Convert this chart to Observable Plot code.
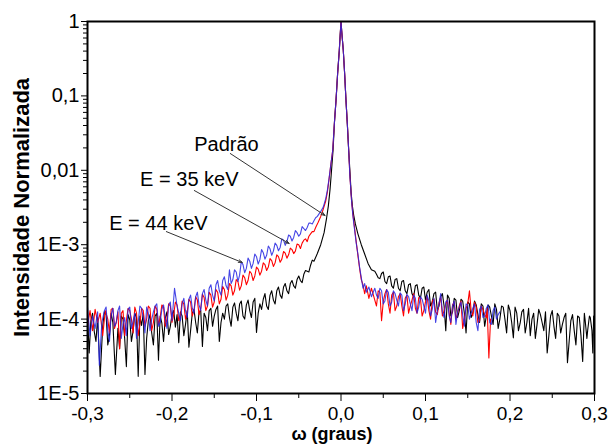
<!DOCTYPE html>
<html><head><meta charset="utf-8">
<script src="https://cdn.jsdelivr.net/npm/d3@7"></script>
<script src="https://cdn.jsdelivr.net/npm/@observablehq/plot@0.6"></script>
<style>body{margin:0;background:#fff} svg{display:block}</style>
</head><body><div id="chart"></div>
<script>
// Padrão (black)
const padrao = [
[-0.300,1.1e-4],[-0.298,3.5e-5],[-0.296,9.5e-5],[-0.292,6.8e-5],[-0.288,1.05e-4],[-0.285,1.7e-5],[-0.282,8.0e-5],[-0.278,1.15e-4],[-0.274,6.0e-5],[-0.270,9.0e-5],[-0.267,1.8e-5],[-0.264,7.5e-5],[-0.260,1.1e-4],[-0.256,5.5e-5],[-0.254,2.3e-5],[-0.250,9.8e-5],[-0.246,7.0e-5],[-0.242,1.05e-4],[-0.240,1.7e-5],[-0.236,8.2e-5],[-0.232,1.8e-5],[-0.228,9.5e-5],[-0.224,6.5e-5],[-0.220,1.1e-4],[-0.216,2.8e-5],[-0.212,8.8e-5],[-0.208,1.02e-4],[-0.204,6.2e-5],[-0.200,1.15e-4],[-0.196,7.8e-5],[-0.192,4.8e-5],[-0.188,1.1e-4],[-0.184,8.5e-5],[-0.180,4.2e-5],[-0.176,1.2e-4],[-0.172,9.0e-5],[-0.168,1.25e-4],[-0.164,4.3e-5],[-0.160,1.05e-4],[-0.156,1.3e-4],[-0.152,8.0e-5],[-0.148,1.35e-4],[-0.144,5.0e-5],[-0.140,1.2e-4],[-0.136,1.5e-4],[-0.132,1.05e-4],[-0.128,1.45e-4],[-0.124,1.2e-4],[-0.120,1.6e-4],[-0.116,1.1e-4],[-0.112,1.55e-4],[-0.108,1.3e-4],[-0.104,1.7e-4],[-0.100,6.6e-5],[-0.096,1.6e-4],[-0.092,1.85e-4],[-0.088,1.5e-4],[-0.084,2.1e-4],[-0.080,1.8e-4],[-0.076,2.4e-4],[-0.072,2.1e-4],[-0.068,2.7e-4],[-0.064,2.4e-4],[-0.060,3.0e-4],[-0.056,2.8e-4],[-0.052,3.4e-4],[-0.048,3.3e-4],[-0.044,4.0e-4],[-0.040,4.4e-4],[-0.036,5.3e-4],[-0.032,6.0e-4],[-0.028,7.6e-4],[-0.024,1.0e-3],[-0.020,1.45e-3],[-0.017,2.3e-3],[-0.015,3.3e-3],[-0.013,5.5e-3],[-0.0115,9.0e-3],[-0.0094,1.86e-2],[-0.0077,4.5e-2],[-0.0059,8.7e-2],[-0.004,0.2],[-0.002,0.41],[-0.001,0.65],[0,1],[0.001,0.7],[0.0027,0.41],[0.0043,0.2],[0.0059,8.7e-2],[0.0075,4.2e-2],[0.0091,1.86e-2],[0.0106,9.5e-3],[0.012,5.0e-3],[0.0135,3.3e-3],[0.015,2.5e-3],[0.017,1.9e-3],[0.020,1.4e-3],[0.024,1.0e-3],[0.028,7.5e-4],[0.032,5.6e-4],[0.036,4.6e-4],[0.040,4.4e-4],[0.044,3.6e-4],[0.048,4.1e-4],[0.052,3.2e-4],[0.056,3.7e-4],[0.060,2.8e-4],[0.064,3.4e-4],[0.068,2.6e-4],[0.072,3.2e-4],[0.076,2.4e-4],[0.080,2.9e-4],[0.084,2.2e-4],[0.088,2.8e-4],[0.092,2.1e-4],[0.096,2.6e-4],[0.100,1.8e-4],[0.104,2.5e-4],[0.108,1.7e-4],[0.112,2.3e-4],[0.116,1.5e-4],[0.120,2.2e-4],[0.124,7.0e-5],[0.128,1.9e-4],[0.132,1.25e-4],[0.136,1.8e-4],[0.140,1.3e-4],[0.144,1.75e-4],[0.148,6.5e-5],[0.152,1.6e-4],[0.156,1.2e-4],[0.160,1.55e-4],[0.164,9.0e-5],[0.168,1.5e-4],[0.172,1.1e-4],[0.176,1.45e-4],[0.180,8.5e-5],[0.184,1.35e-4],[0.188,1.0e-4],[0.192,1.45e-4],[0.196,6.5e-5],[0.200,1.3e-4],[0.204,5.6e-5],[0.208,1.2e-4],[0.212,8.8e-5],[0.216,1.35e-4],[0.220,9.0e-5],[0.224,6.0e-5],[0.228,1.2e-4],[0.232,8.5e-5],[0.236,1.15e-4],[0.240,7.0e-5],[0.244,3.5e-5],[0.248,1.1e-4],[0.252,8.0e-5],[0.256,1.2e-4],[0.260,6.5e-5],[0.264,1.05e-4],[0.268,2.6e-5],[0.272,9.5e-5],[0.276,7.0e-5],[0.280,1.1e-4],[0.284,6.0e-5],[0.286,2.7e-5],[0.289,9.5e-5],[0.292,7.2e-5],[0.295,1.05e-4],[0.298,3.5e-5],[0.300,8.5e-5]
];
// extra Padrão readings between the points above
const padraoExtra = [
[-0.294,1.2e-4],[-0.290,5.0e-5],[-0.280,1.25e-4],[-0.276,4.5e-5],[-0.272,1.2e-4],[-0.262,4.0e-5],[-0.258,1.0e-4],[-0.252,1.15e-4],[-0.248,5.0e-5],[-0.244,1.2e-4],[-0.238,1.1e-4],[-0.234,1.2e-4],[-0.230,5.5e-5],[-0.226,1.15e-4],[-0.222,4.5e-5],[-0.218,1.2e-4],[-0.214,1.1e-4],[-0.210,5.0e-5],[-0.206,1.25e-4],[-0.202,8.0e-5],[-0.198,1.3e-4],[-0.194,1.15e-4],[-0.190,1.25e-4],[-0.186,6.0e-5],[-0.182,1.3e-4],[-0.178,7.0e-5],[-0.174,1.35e-4],[-0.170,6.5e-5],[-0.166,1.3e-4],[-0.162,1.2e-4],[-0.158,7.0e-5],[-0.154,1.4e-4],[-0.150,1.1e-4],[-0.146,1.5e-4],[-0.142,9.0e-5],[-0.138,1.0e-4],[-0.134,1.6e-4],[-0.130,8.0e-5],[-0.126,1.65e-4],[-0.122,9.5e-5],[-0.118,1.75e-4],[-0.114,1.0e-4],[-0.110,1.8e-4],[-0.106,1.05e-4],[-0.102,1.9e-4],[-0.098,1.2e-4],[-0.094,1.35e-4],[-0.090,2.2e-4],[-0.086,1.35e-4],[-0.082,2.4e-4],[-0.078,1.6e-4],[-0.074,2.7e-4],[-0.070,1.9e-4],[-0.066,3.0e-4],[-0.062,2.2e-4],[-0.058,3.3e-4],[-0.054,2.6e-4],[-0.050,3.8e-4],[-0.046,3.1e-4],[-0.042,4.5e-4],[-0.038,4.3e-4],[-0.034,6.2e-4],
[0.042,4.0e-4],[0.046,3.5e-4],[0.050,4.3e-4],[0.054,3.0e-4],[0.058,3.8e-4],[0.062,2.6e-4],[0.066,3.5e-4],[0.070,2.4e-4],[0.074,3.3e-4],[0.078,2.2e-4],[0.082,3.0e-4],[0.086,2.0e-4],[0.090,2.9e-4],[0.094,1.9e-4],[0.098,2.7e-4],[0.102,2.3e-4],[0.106,1.5e-4],[0.110,2.2e-4],[0.114,1.3e-4],[0.118,2.0e-4],[0.122,1.5e-4],[0.126,2.1e-4],[0.130,1.1e-4],[0.134,1.9e-4],[0.138,1.05e-4],[0.142,1.85e-4],[0.146,1.2e-4],[0.150,1.7e-4],[0.154,1.05e-4],[0.158,1.75e-4],[0.162,1.15e-4],[0.166,1.6e-4],[0.170,8.0e-5],[0.174,1.55e-4],[0.178,1.1e-4],[0.182,1.6e-4],[0.186,7.5e-5],[0.190,1.5e-4],[0.194,1.0e-4],[0.198,1.55e-4],[0.202,9.0e-5],[0.206,1.45e-4],[0.210,7.0e-5],[0.214,1.25e-4],[0.218,6.5e-5],[0.222,1.4e-4],[0.226,1.0e-4],[0.230,5.5e-5],[0.234,1.35e-4],[0.238,9.0e-5],[0.242,1.25e-4],[0.246,6.0e-5],[0.250,1.3e-4],[0.254,5.5e-5],[0.258,1.1e-4],[0.262,8.5e-5],[0.266,1.2e-4],[0.270,5.0e-5],[0.274,1.15e-4],[0.278,4.5e-5],[0.282,1.05e-4],[0.288,1.2e-4],[0.291,5.5e-5],[0.294,1.1e-4],[0.297,7.0e-5],[0.299,1.1e-4]
];
// blue series
const serieAzul = [
[-0.300,1.45e-4],[-0.297,6.0e-5],[-0.294,1.1e-4],[-0.291,7.5e-5],[-0.288,1.25e-4],[-0.286,2.4e-5],[-0.283,9.0e-5],[-0.280,1.3e-4],[-0.276,7.0e-5],[-0.272,1.15e-4],[-0.268,8.0e-5],[-0.264,1.3e-4],[-0.260,5.5e-5],[-0.256,1.05e-4],[-0.252,1.35e-4],[-0.248,7.5e-5],[-0.244,1.2e-4],[-0.240,9.0e-5],[-0.236,1.4e-4],[-0.232,6.5e-5],[-0.228,1.2e-4],[-0.224,1.0e-4],[-0.220,1.5e-4],[-0.216,8.0e-5],[-0.212,1.35e-4],[-0.208,1.05e-4],[-0.204,1.55e-4],[-0.200,9.5e-5],[-0.197,2.6e-4],[-0.192,1.2e-4],[-0.188,1.6e-4],[-0.184,1.3e-4],[-0.180,1.85e-4],[-0.176,1.4e-4],[-0.172,2.0e-4],[-0.168,1.55e-4],[-0.164,2.2e-4],[-0.160,1.8e-4],[-0.156,2.6e-4],[-0.152,2.1e-4],[-0.148,2.9e-4],[-0.144,2.4e-4],[-0.140,3.3e-4],[-0.136,2.8e-4],[-0.132,4.6e-4],[-0.128,3.4e-4],[-0.124,4.3e-4],[-0.120,3.9e-4],[-0.116,5.4e-4],[-0.112,4.8e-4],[-0.108,6.0e-4],[-0.104,5.6e-4],[-0.100,6.9e-4],[-0.096,6.3e-4],[-0.092,7.8e-4],[-0.088,7.2e-4],[-0.084,8.8e-4],[-0.080,8.2e-4],[-0.076,9.8e-4],[-0.072,9.2e-4],[-0.068,1.15e-3],[-0.064,1.1e-3],[-0.060,1.3e-3],[-0.056,1.25e-3],[-0.052,1.45e-3],[-0.048,1.4e-3],[-0.044,1.65e-3],[-0.040,1.7e-3],[-0.036,1.95e-3],[-0.032,2.1e-3],[-0.028,2.4e-3],[-0.024,2.8e-3],[-0.021,3.2e-3],[-0.018,4.2e-3],[-0.016,5.5e-3],[-0.014,8.0e-3],[-0.012,1.2e-2],[-0.0098,1.86e-2],[-0.0077,4.5e-2],[-0.0059,8.7e-2],[-0.004,0.2],[-0.002,0.41],[-0.001,0.65],[0,1],[0.001,0.7],[0.0027,0.41],[0.0043,0.2],[0.0059,8.7e-2],[0.0075,4.2e-2],[0.0091,1.86e-2],[0.0105,8.5e-3],[0.0125,3.9e-3],[0.014,2.5e-3],[0.016,1.6e-3],[0.018,1.05e-3],[0.020,7.5e-4],[0.022,5.0e-4],[0.024,3.6e-4],[0.026,2.6e-4],[0.028,3.0e-4],[0.030,2.3e-4],[0.033,2.7e-4],[0.036,2.0e-4],[0.040,2.6e-4],[0.044,1.9e-4],[0.048,2.4e-4],[0.052,1.75e-4],[0.056,2.3e-4],[0.060,1.7e-4],[0.064,2.2e-4],[0.068,1.5e-4],[0.072,2.1e-4],[0.076,1.6e-4],[0.080,2.0e-4],[0.084,1.3e-4],[0.088,1.9e-4],[0.092,1.45e-4],[0.096,1.85e-4],[0.100,1.2e-4],[0.104,1.75e-4],[0.108,1.35e-4],[0.112,9.0e-5],[0.116,1.6e-4],[0.120,1.25e-4],[0.124,1.7e-4],[0.128,1.1e-4],[0.132,1.5e-4],[0.136,8.5e-5],[0.140,1.45e-4],[0.144,1.15e-4],[0.148,1.6e-4],[0.152,1.0e-4],[0.156,1.4e-4],[0.160,9.0e-5],[0.164,1.35e-4],[0.168,1.05e-4],[0.172,1.4e-4],[0.176,9.0e-5],[0.180,1.3e-4],[0.184,1.0e-4],[0.188,1.25e-4]
];
const serieAzulExtra = [
[-0.278,1.45e-4],[-0.274,5.0e-5],[-0.270,1.4e-4],[-0.266,9.0e-5],[-0.262,1.5e-4],[-0.258,8.5e-5],[-0.254,6.0e-5],[-0.250,1.45e-4],[-0.246,9.5e-5],[-0.242,5.5e-5],[-0.238,1.5e-4],[-0.234,1.05e-4],[-0.230,1.45e-4],[-0.226,7.0e-5],[-0.222,1.25e-4],[-0.218,1.6e-4],[-0.214,9.0e-5],[-0.210,1.55e-4],[-0.206,7.5e-5],[-0.202,1.7e-4],[-0.194,1.5e-4],[-0.190,9.5e-5],[-0.186,1.9e-4],[-0.182,1.05e-4],[-0.178,2.1e-4],[-0.174,1.2e-4],[-0.170,2.3e-4],[-0.166,1.3e-4],[-0.162,2.5e-4],[-0.158,1.5e-4],[-0.154,2.9e-4],[-0.150,1.75e-4],[-0.146,3.3e-4],[-0.142,2.1e-4],[-0.138,3.7e-4],[-0.134,2.5e-4],[-0.130,3.0e-4],[-0.126,4.6e-4],[-0.122,3.2e-4],[-0.118,5.9e-4],[-0.114,4.2e-4],[-0.110,6.6e-4],[-0.106,4.8e-4],[-0.102,7.5e-4],[-0.098,5.5e-4],[-0.094,8.6e-4],[-0.090,6.4e-4],[-0.086,9.6e-4],[-0.082,7.2e-4],[-0.078,1.05e-3],[-0.074,8.3e-4],[-0.070,1.2e-3],[-0.066,9.8e-4],[-0.062,1.35e-3],[-0.058,1.12e-3],[-0.054,1.55e-3],[-0.050,1.3e-3],[-0.046,1.75e-3],[-0.042,1.55e-3],[-0.038,1.95e-3],[-0.034,1.9e-3],[-0.030,2.3e-3],[-0.026,2.6e-3],
[0.042,2.1e-4],[0.046,2.6e-4],[0.050,1.6e-4],[0.054,2.5e-4],[0.058,1.5e-4],[0.062,2.4e-4],[0.066,1.8e-4],[0.070,2.25e-4],[0.074,1.3e-4],[0.078,2.15e-4],[0.082,1.6e-4],[0.086,2.1e-4],[0.090,1.2e-4],[0.094,2.0e-4],[0.098,1.5e-4],[0.102,2.1e-4],[0.106,1.1e-4],[0.110,1.9e-4],[0.114,1.3e-4],[0.118,2.2e-4],[0.122,1.05e-4],[0.126,1.8e-4],[0.130,9.0e-5],[0.134,1.75e-4],[0.138,1.25e-4],[0.142,1.7e-4],[0.146,8.0e-5],[0.150,1.55e-4],[0.154,1.2e-4],[0.158,1.6e-4],[0.162,7.0e-5],[0.166,1.5e-4],[0.170,1.1e-4],[0.174,1.55e-4],[0.178,8.5e-5],[0.182,1.45e-4],[0.186,1.15e-4]
];
// red series
const serieVermelha = [
[-0.300,8.0e-5],[-0.297,1.3e-4],[-0.294,7.0e-5],[-0.291,1.35e-4],[-0.288,9.0e-5],[-0.285,1.2e-4],[-0.282,6.0e-5],[-0.279,1.3e-4],[-0.276,1.0e-4],[-0.272,1.35e-4],[-0.268,7.5e-5],[-0.264,1.25e-4],[-0.262,4.0e-5],[-0.258,1.3e-4],[-0.254,9.5e-5],[-0.250,1.3e-4],[-0.246,6.5e-5],[-0.242,1.2e-4],[-0.238,8.5e-5],[-0.234,1.3e-4],[-0.230,1.0e-4],[-0.226,1.4e-4],[-0.222,9.0e-5],[-0.218,1.35e-4],[-0.214,1.05e-4],[-0.210,1.45e-4],[-0.206,1.0e-4],[-0.202,1.5e-4],[-0.198,1.15e-4],[-0.194,1.55e-4],[-0.190,1.1e-4],[-0.186,1.6e-4],[-0.182,1.25e-4],[-0.178,1.7e-4],[-0.174,1.3e-4],[-0.170,1.8e-4],[-0.166,1.4e-4],[-0.162,1.95e-4],[-0.158,1.5e-4],[-0.154,2.1e-4],[-0.150,1.7e-4],[-0.146,2.3e-4],[-0.142,1.85e-4],[-0.138,2.5e-4],[-0.134,2.1e-4],[-0.130,2.8e-4],[-0.126,2.4e-4],[-0.122,3.2e-4],[-0.118,2.8e-4],[-0.114,3.6e-4],[-0.110,3.3e-4],[-0.106,4.1e-4],[-0.102,3.8e-4],[-0.098,4.7e-4],[-0.094,4.4e-4],[-0.090,5.4e-4],[-0.086,5.0e-4],[-0.082,6.1e-4],[-0.078,5.7e-4],[-0.074,6.9e-4],[-0.070,6.4e-4],[-0.066,7.7e-4],[-0.062,7.3e-4],[-0.058,8.6e-4],[-0.054,8.2e-4],[-0.050,1.0e-3],[-0.046,1.05e-3],[-0.042,1.2e-3],[-0.038,1.3e-3],[-0.034,1.5e-3],[-0.030,1.7e-3],[-0.027,2.0e-3],[-0.024,2.4e-3],[-0.021,3.0e-3],[-0.018,3.9e-3],[-0.016,5.2e-3],[-0.014,7.8e-3],[-0.012,1.2e-2],[-0.0098,1.86e-2],[-0.0077,4.5e-2],[-0.0059,8.7e-2],[-0.004,0.2],[-0.002,0.41],[-0.001,0.65],[0,1],[0.001,0.7],[0.0027,0.41],[0.0043,0.2],[0.0059,8.7e-2],[0.0075,4.2e-2],[0.0091,1.86e-2],[0.0105,8.5e-3],[0.0125,3.9e-3],[0.014,2.6e-3],[0.016,1.7e-3],[0.018,1.1e-3],[0.020,7.2e-4],[0.022,4.8e-4],[0.024,3.4e-4],[0.026,2.9e-4],[0.028,2.2e-4],[0.030,2.8e-4],[0.033,1.9e-4],[0.036,2.6e-4],[0.040,1.8e-4],[0.044,2.4e-4],[0.048,9.5e-5],[0.052,2.2e-4],[0.056,1.6e-4],[0.060,2.1e-4],[0.064,1.3e-4],[0.068,2.0e-4],[0.072,1.5e-4],[0.076,1.9e-4],[0.080,1.2e-4],[0.084,1.8e-4],[0.088,1.4e-4],[0.092,1.95e-4],[0.096,1.1e-4],[0.100,1.7e-4],[0.104,1.3e-4],[0.108,1.75e-4],[0.112,1.25e-4],[0.116,1.65e-4],[0.120,1.1e-4],[0.124,1.6e-4],[0.128,1.2e-4],[0.132,1.55e-4],[0.136,1.0e-4],[0.140,1.5e-4],[0.144,7.5e-5],[0.148,1.4e-4],[0.152,2.4e-4],[0.156,1.1e-4],[0.160,1.45e-4],[0.164,9.5e-5],[0.168,1.35e-4],[0.172,1.05e-4],[0.175,3.0e-5],[0.177,1.0e-4]
];
const serieVermelhaExtra = [
[-0.274,6.5e-5],[-0.270,1.4e-4],[-0.266,9.0e-5],[-0.260,1.2e-4],[-0.256,6.0e-5],[-0.252,1.4e-4],[-0.248,1.0e-4],[-0.244,1.45e-4],[-0.240,6.0e-5],[-0.236,1.4e-4],[-0.232,8.0e-5],[-0.228,1.5e-4],[-0.224,7.0e-5],[-0.220,1.5e-4],[-0.216,8.5e-5],[-0.212,1.55e-4],[-0.208,8.0e-5],[-0.204,1.6e-4],[-0.200,9.0e-5],[-0.196,1.7e-4],[-0.192,9.5e-5],[-0.188,1.75e-4],[-0.184,1.0e-4],[-0.180,1.85e-4],[-0.176,1.1e-4],[-0.172,2.0e-4],[-0.168,1.15e-4],[-0.164,2.15e-4],[-0.160,1.3e-4],[-0.156,2.3e-4],[-0.152,1.45e-4],[-0.148,2.5e-4],[-0.144,1.6e-4],[-0.140,2.75e-4],[-0.136,1.8e-4],[-0.132,3.0e-4],[-0.128,2.1e-4],[-0.124,3.4e-4],[-0.120,2.45e-4],[-0.116,3.9e-4],[-0.112,2.9e-4],[-0.108,4.4e-4],[-0.104,3.3e-4],[-0.100,5.0e-4],[-0.096,3.9e-4],[-0.092,5.7e-4],[-0.088,4.5e-4],[-0.084,6.5e-4],[-0.080,5.1e-4],[-0.076,7.3e-4],[-0.072,5.8e-4],[-0.068,8.1e-4],[-0.064,6.6e-4],[-0.060,9.0e-4],[-0.056,7.6e-4],[-0.052,1.02e-3],[-0.048,8.9e-4],[-0.044,1.15e-3],[-0.040,1.1e-3],[-0.036,1.4e-3],[-0.032,1.5e-3],
[0.042,1.5e-4],[0.046,2.3e-4],[0.050,1.7e-4],[0.054,2.5e-4],[0.058,1.2e-4],[0.062,2.3e-4],[0.066,1.5e-4],[0.070,2.2e-4],[0.074,1.1e-4],[0.078,2.1e-4],[0.082,1.5e-4],[0.086,2.2e-4],[0.090,1.2e-4],[0.094,1.9e-4],[0.098,1.3e-4],[0.102,2.0e-4],[0.106,1.0e-4],[0.110,1.85e-4],[0.114,1.15e-4],[0.118,2.0e-4],[0.122,1.3e-4],[0.126,1.8e-4],[0.130,8.5e-5],[0.134,1.7e-4],[0.138,1.2e-4],[0.142,1.75e-4],[0.146,1.0e-4],[0.150,1.6e-4],[0.154,1.3e-4],[0.158,1.7e-4],[0.162,9.0e-5],[0.166,1.5e-4],[0.170,1.15e-4],[0.173,1.4e-4]
];

const yTicks = [1, 0.1, 0.01, 1e-3, 1e-4, 1e-5];
const yTickLabels = ["1", "0,1", "0,01", "1E-3", "1E-4", "1E-5"];
const xTicks = [-0.3, -0.2, -0.1, 0, 0.1, 0.2, 0.3];
const xTickLabels = ["-0,3", "-0,2", "-0,1", "0,0", "0,1", "0,2", "0,3"];
const xMinorTicks = [-0.25, -0.15, -0.05, 0.05, 0.15, 0.25];
const xLabel = "ω (graus)";
const yLabel = "Intensidade Normalizada";

// annotations (data coordinates)
const annLabels = ["Padrão", "E = 35 keV", "E = 44 keV"];
const annTextX = [-0.1355, -0.1795, -0.2161];
const annTextY = [0.0181, 6.06e-3, 1.58e-3];
const annFromX = [-0.131, -0.1736, -0.2067];
const annFromY = [0.0168, 5.35e-3, 1.5e-3];
const annToX = [-0.0189, -0.0614, -0.1169];
const annToY = [2.47e-3, 1.04e-3, 5.77e-4];

const toObj = (a, b) => a.concat(b).map(([x, y]) => ({x, y})).sort((p, q) => p.x - q.x);
const anns = annLabels.map((label, i) => ({label, tx: annTextX[i], ty: annTextY[i], x1: annFromX[i], y1: annFromY[i], x2: annToX[i], y2: annToY[i]}));
const yMinor = [];
for (let e = -5; e < 0; e++) for (let m = 2; m <= 9; m++) yMinor.push(m * Math.pow(10, e));
const lab = (ticks, labels) => d => labels[ticks.findIndex(t => Math.abs(t - d) <= 1e-6 * Math.max(Math.abs(t), 1e-9) + 1e-15)];

const chart = Plot.plot({
  width: 610, height: 444,
  marginLeft: 87, marginRight: 16, marginTop: 21, marginBottom: 51,
  style: {fontFamily: "'Liberation Sans', Arial, sans-serif", background: "#fff", color: "#000"},
  x: {domain: [-0.3, 0.3]},
  y: {type: "log", domain: [1e-5, 1]},
  marks: [
    Plot.line(toObj(padrao, padraoExtra), {x: "x", y: "y", stroke: "#000", strokeWidth: 1.1}),
    Plot.line(toObj(serieVermelha, serieVermelhaExtra), {x: "x", y: "y", stroke: "#ff0000", strokeWidth: 1.1}),
    Plot.line(toObj(serieAzul, serieAzulExtra), {x: "x", y: "y", stroke: "#2424e0", strokeWidth: 1.1, strokeOpacity: 0.85}),
    Plot.arrow(anns, {x1: "x1", y1: "y1", x2: "x2", y2: "y2", stroke: "#333", strokeWidth: 1, headLength: 6, headAngle: 40}),
    Plot.text(anns, {x: "tx", y: "ty", text: "label", fontSize: 20, lineAnchor: "bottom", textAnchor: "middle", fill: "#000"}),
    Plot.axisX(xMinorTicks, {tickSize: 5, tickFormat: () => "", label: null}),
    Plot.axisX(xTicks, {tickSize: 8, tickPadding: 5, fontSize: 19, tickFormat: lab(xTicks, xTickLabels), label: null}),
    Plot.axisY(yMinor, {tickSize: 4, tickFormat: () => "", label: null}),
    Plot.axisY(yTicks, {tickSize: 6, tickPadding: 2, fontSize: 20, tickFormat: lab(yTicks, yTickLabels), label: null}),
    Plot.frame({stroke: "#000", strokeWidth: 2}),
    Plot.text([yLabel], {frameAnchor: "left", rotate: -90, dx: -66, textAnchor: "middle", fontSize: 22, fontWeight: "bold", fill: "#000"}),
    Plot.text([xLabel], {frameAnchor: "bottom", dx: -9, dy: 46, lineAnchor: "bottom", textAnchor: "middle", fontSize: 18, fontWeight: "bold", fill: "#000"})
  ]
});
document.getElementById("chart").appendChild(chart);
</script>
</body></html>
